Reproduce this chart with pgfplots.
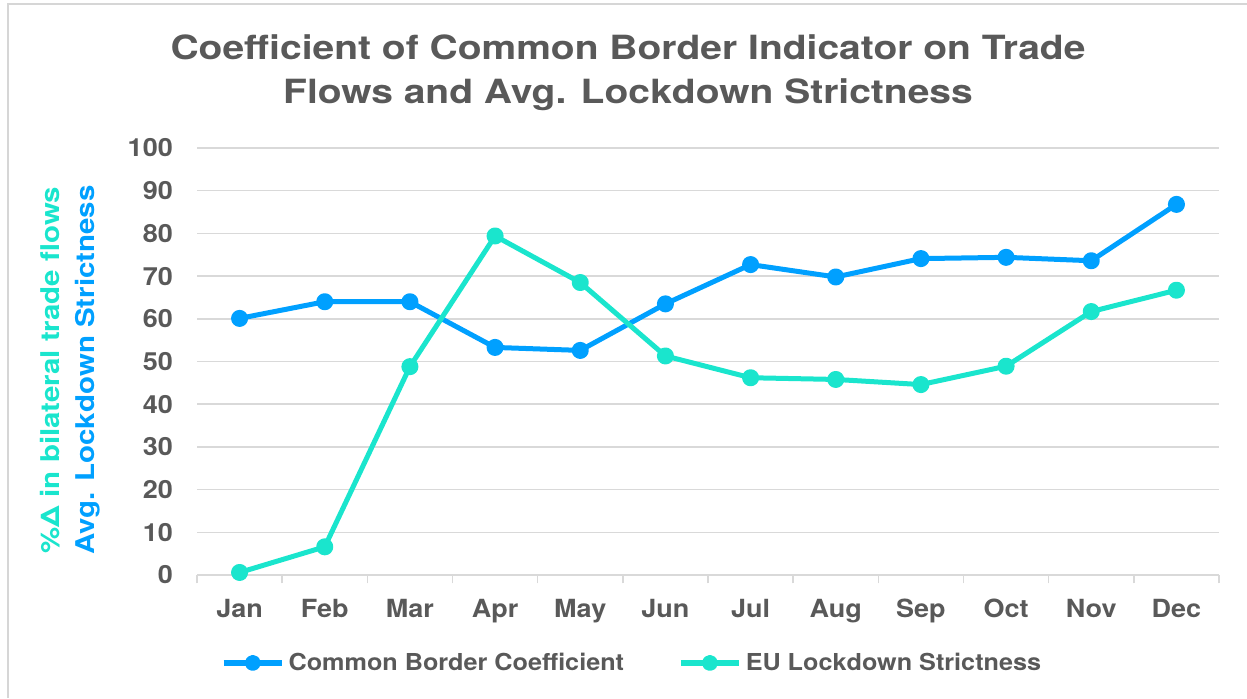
\documentclass[border=0pt]{standalone}
\usepackage{fontspec}
\setmainfont{TeX Gyre Heros}[FakeStretch=1.08]
\newfontfamily\titlefont{TeX Gyre Heros}[FakeStretch=1.17]
\newfontfamily\labelfont{TeX Gyre Heros}[FakeStretch=1.14]
\usepackage{pgfplots}
\pgfplotsset{compat=1.18}

\definecolor{cbblue}{RGB}{0,160,255}
\definecolor{lockteal}{RGB}{26,229,205}
\definecolor{txtgray}{RGB}{89,89,89}
\definecolor{gridgray}{RGB}{217,217,217}
\definecolor{framegray}{RGB}{214,214,214}

% monthly values: common border coefficient and EU lockdown strictness
\pgfplotstableread{
m  border  lockdown
0  60.1    0.6
1  64.0    6.6
2  64.0    48.8
3  53.3    79.4
4  52.6    68.5
5  63.5    51.3
6  72.7    46.2
7  69.8    45.8
8  74.1    44.6
9  74.4    48.9
10 73.6    61.7
11 86.8    66.7
}\monthly

\begin{document}
\begin{tikzpicture}
\useasboundingbox (0,0) rectangle (748.2pt,-418.8pt);
\draw[framegray, line width=1pt] (4.8pt,-418.8pt) -- (4.8pt,-2.4pt) -- (748.2pt,-2.4pt);

\node[anchor=base, font=\titlefont\bfseries\fontsize{20}{24}\selectfont, text=txtgray]
  at (376.8pt,-35.4pt) {Coefficient of Common Border Indicator on Trade};
\node[anchor=base, font=\titlefont\bfseries\fontsize{20}{24}\selectfont, text=txtgray]
  at (376.8pt,-61.8pt) {Flows and Avg. Lockdown Strictness};

\node[rotate=90, font=\labelfont\bfseries\fontsize{15.5}{18}\selectfont, text=lockteal]
  at (30pt,-222pt) {\%Δ in bilateral trade flows};
\node[rotate=90, font=\labelfont\bfseries\fontsize{15.5}{18}\selectfont, text=cbblue]
  at (52.5pt,-222pt) {Avg. Lockdown Strictness};

\begin{axis}[
  at={(118.2pt,-345pt)}, anchor=south west,
  scale only axis, width=613.2pt, height=256.2pt,
  xmin=-0.5, xmax=11.5, ymin=0, ymax=100,
  xtick={-0.5,0.5,...,11.5},
  x tick label as interval,
  xticklabels={Jan,Feb,Mar,Apr,May,Jun,Jul,Aug,Sep,Oct,Nov,Dec},
  ytick={0,10,...,100},
  ymajorgrids,
  grid style={gridgray, line width=0.9pt},
  axis x line*=bottom, axis y line*=left,
  y axis line style={draw=none},
  x axis line style={gridgray, line width=1pt, -},
  xtick align=outside,
  major tick length=5pt,
  xtick style={gridgray, line width=0.9pt},
  ytick style={draw=none},
  /pgf/number format/assume math mode=true,
  xticklabel style={font=\bfseries\fontsize{15}{18}\selectfont, text=txtgray, yshift=-6pt},
  yticklabel style={font=\bfseries\fontsize{15}{18}\selectfont, text=txtgray, xshift=-11pt},
  clip=false,
  legend columns=2,
  legend style={at={(0.426,-0.206)}, anchor=center, draw=none, fill=none,
    font=\bfseries\fontsize{14}{17}\selectfont, text=txtgray,
    /tikz/every even column/.append style={column sep=30pt}},
  legend image code/.code={%
    \draw[line width=4pt, mark size=2.8pt, mark repeat=2, mark phase=2]
      plot coordinates {(0pt,0pt) (17.5pt,0pt) (35pt,0pt)};},
]
\addplot[cbblue, line width=3pt, line join=round, mark=*, mark size=3.6pt,
  mark options={solid, fill=cbblue, draw=cbblue}]
  table[x=m, y=border] {\monthly};
\addlegendentry{Common Border Coefficient}
\addplot[lockteal, line width=3pt, line join=round, mark=*, mark size=3.6pt,
  mark options={solid, fill=lockteal, draw=lockteal}]
  table[x=m, y=lockdown] {\monthly};
\addlegendentry{EU Lockdown Strictness}
\end{axis}
\end{tikzpicture}
\end{document}
